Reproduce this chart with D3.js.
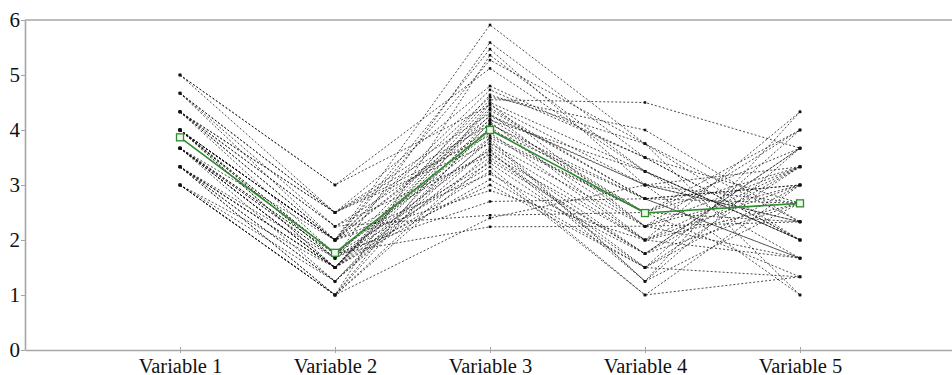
<!DOCTYPE html>
<html>
<head>
<meta charset="utf-8">
<script src="https://cdn.jsdelivr.net/npm/d3@7"></script>
<style>
  body { margin: 0; background: #fff; }
  svg { display: block; }
  svg text { font-family: 'Liberation Serif', 'Tinos', 'Times New Roman', 'DejaVu Serif', serif !important; }
</style>
</head>
<body>
<figure id="chart" style="margin:0"></figure>
<script>
// one entry per respondent, in the same order in every array
const variables = ['Variable 1', 'Variable 2', 'Variable 3', 'Variable 4', 'Variable 5'];
const yTicks = [0, 1, 2, 3, 4, 5, 6];

const var1 = [5, 5, 5, 4.67, 4.67, 4.67, 4.67, 4.33, 4.33, 4.33, 4.33, 4.33, 4.33, 4.33,
  4, 4, 4, 4, 4, 4, 4, 4, 4, 4, 4, 4, 3.67, 3.67, 3.67, 3.67, 3.67, 3.67, 3.67, 3.67, 3.67, 3.67,
  3.33, 3.33, 3.33, 3.33, 3.33, 3.33, 3.33, 3.33, 3, 3, 3, 3, 3, 3];
const var2 = [3, 2.5, 3, 2.5, 2.25, 2.5, 2, 2.5, 2.25, 2, 2.5, 2, 2.25, 1.75, 2, 2, 1.67, 2, 2, 1.75,
  2, 1.5, 2, 1.75, 1.5, 1.67, 2, 1.75, 1.5, 1.67, 1.5, 1.75, 1.5, 1.67, 1.25, 1.5, 1.5, 1.67, 1.5, 1.25,
  1, 1.5, 1.25, 1, 1.5, 1.25, 1, 1, 1, 1];
const var3 = [4.45, 3.9, 5.12, 4.1, 3.55, 4.8, 3.2, 4.3, 2.45, 4.6, 3.75, 5.47, 4.0, 3.4, 4.18,
  2.9, 4.55, 3.62, 5.91, 3.86, 4.25, 3.1, 4.73, 2.24, 4.36, 3.65, 5.27, 3.95, 4.12, 3.33,
  4.5, 2.7, 3.8, 5.59, 4.05, 3.5, 4.27, 3.0, 4.64, 3.7, 2.4, 4.4, 3.85, 5.36, 3.25, 4.2, 3.6, 4.48, 3.45, 4.15];
const var4 = [3, 2.5, 3.25, 2.75, 2, 3.5, 1.75, 2.25, 2.5, 4, 2.25, 3, 2.75, 1.5, 3.25, 2, 4.5, 1.25,
  3.75, 2.5, 3, 1.5, 3.5, 2.25, 2.75, 1.75, 3.75, 2, 2.5, 1, 3.25, 2.75, 1.25, 3.5, 2.25, 1.75, 3, 1.5,
  3.75, 2, 3, 2.75, 1.25, 3.25, 1, 2.5, 1.5, 2.25, 1.75, 2];
const var5 = [2.33, 3.67, 1.67, 3, 4.33, 2, 2.67, 3.33, 1.33, 2.33, 4, 2.67, 1.67, 3.33, 2, 3, 3.67,
  2.67, 1, 2.33, 3.33, 4, 2, 3, 1.67, 3.67, 2.33, 2.67, 3.33, 1.33, 2, 3, 4.33, 2.67, 1.67, 3.67, 2.33,
  3, 2, 3.33, 1, 2.67, 3.67, 2, 3, 4, 1.33, 2.33, 3.33, 1.67];

const columns = [var1, var2, var3, var4, var5];
const rows = var1.map((_, i) => columns.map(c => c[i]));
const means = columns.map(c => d3.mean(c));

const width = 952, height = 375;
const margin = { left: 25, top: 20, bottom: 350 };
const frameColor = '#a6a6a6';

const svg = d3.select('#chart')
  .append('svg')
  .attr('width', width)
  .attr('height', height);

const x = d3.scalePoint()
  .domain(variables)
  .range([margin.left, margin.left + 930])
  .padding(1);

const y = d3.scaleLinear()
  .domain([0, 6])
  .range([margin.bottom, margin.top]);

// frame: top rule
svg.append('line')
  .attr('x1', margin.left).attr('x2', width)
  .attr('y1', y(6)).attr('y2', y(6))
  .attr('stroke', frameColor)
  .attr('stroke-width', 1.6);

svg.append('g')
  .attr('transform', `translate(${margin.left},0)`)
  .call(d3.axisLeft(y).tickValues(yTicks).tickFormat(d3.format('d')).tickSize(4).tickSizeOuter(0))
  .attr('font-size', 21)
  .call(g => g.selectAll('text').attr('fill', '#111').attr('dx', 2))
  .call(g => g.selectAll('line').attr('stroke', frameColor))
  .call(g => g.select('.domain').attr('stroke', frameColor).attr('stroke-width', 1.6));

svg.append('g')
  .attr('transform', `translate(0,${margin.bottom})`)
  .call(d3.axisBottom(x).tickSize(3).tickSizeOuter(0))
  .attr('font-size', 20.5)
  .call(g => g.selectAll('.tick line').attr('y1', -3).attr('stroke', frameColor))
  .call(g => g.selectAll('text').attr('fill', '#111').attr('y', 0).attr('dy', 22.5))
  .call(g => g.select('.domain').attr('stroke', frameColor).attr('stroke-width', 1.6));

const line = d3.line()
  .x((d, i) => x(variables[i]))
  .y(d => y(d));

svg.append('g')
  .selectAll('path')
  .data(rows)
  .join('path')
  .attr('d', line)
  .attr('fill', 'none')
  .attr('stroke', '#111')
  .attr('stroke-width', 0.9)
  .attr('stroke-dasharray', '2,2')
  .attr('stroke-opacity', 0.85);

svg.append('g')
  .selectAll('g')
  .data(columns)
  .join('g')
  .selectAll('rect')
  .data((c, j) => c.map(v => ({ v, j })))
  .join('rect')
  .attr('x', d => x(variables[d.j]) - 1.25)
  .attr('y', d => y(d.v) - 1.25)
  .attr('width', 2.5)
  .attr('height', 2.5)
  .attr('fill', '#111');

// average profile
svg.append('path')
  .datum(means)
  .attr('d', line)
  .attr('fill', 'none')
  .attr('stroke', '#2e8b2e')
  .attr('stroke-width', 1.6);

svg.append('g')
  .selectAll('rect')
  .data(means)
  .join('rect')
  .attr('x', (d, i) => x(variables[i]) - 3.5)
  .attr('y', d => y(d) - 3.5)
  .attr('width', 7)
  .attr('height', 7)
  .attr('fill', '#eef7ee')
  .attr('stroke', '#2e8b2e')
  .attr('stroke-width', 1.3);
</script>
</body>
</html>
